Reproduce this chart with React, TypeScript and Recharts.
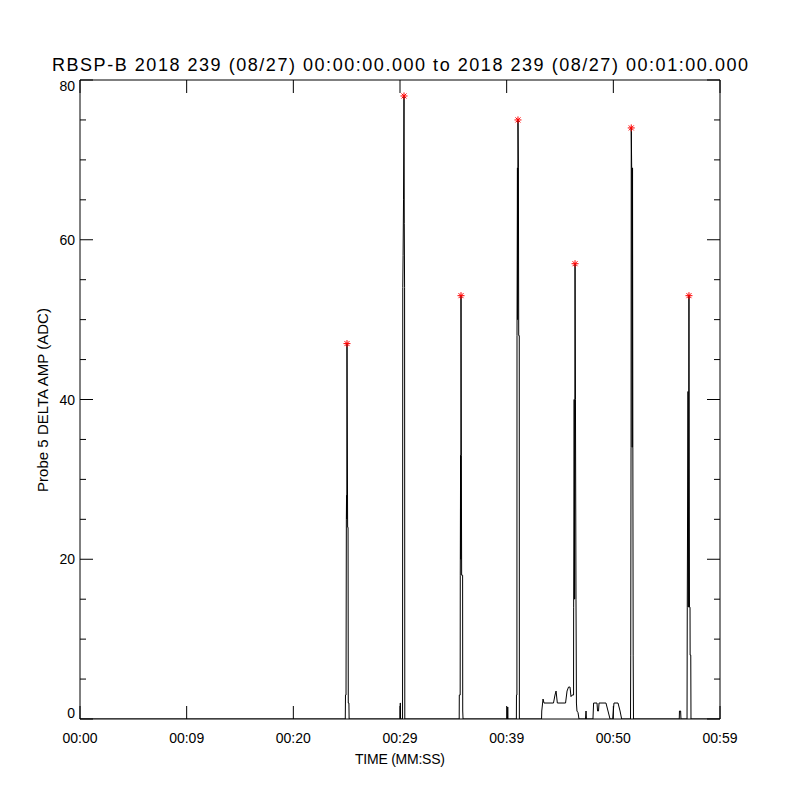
import React from 'react'
import { LineChart, Line, Scatter, XAxis, YAxis } from 'recharts'

// time in seconds from 00:00, amplitude in ADC counts
const start: [number, number][] = [[0, 0]]
const spike1: [number, number][] = [
  [24.87, 0], [24.89, 3], [24.94, 3], [24.97, 25], [24.99, 28], [25.01, 25],
  [25.03, 47], [25.09, 24], [25.13, 24], [25.15, 2], [25.21, 2], [25.23, 0],
]
const blip1: [number, number][] = [[30.01, 0], [30.02, 2], [30.04, 2], [30.05, 0]]
const spike2: [number, number][] = [
  [30.24, 0], [30.26, 54], [30.29, 58], [30.33, 65], [30.375, 78], [30.4, 62], [30.43, 54], [30.45, 0],
]
const spike3: [number, number][] = [
  [35.55, 0], [35.56, 3], [35.64, 3], [35.65, 18], [35.68, 33], [35.7, 20],
  [35.72, 53], [35.75, 33], [35.78, 18], [35.87, 18], [35.88, 1], [35.91, 0],
]
const blip2: [number, number][] = [[40.08, 0], [40.09, 1.5], [40.11, 1.5], [40.12, 0]]
const spike4: [number, number][] = [
  [40.91, 0], [40.92, 3], [40.96, 3], [40.97, 48], [41.01, 69], [41.03, 50],
  [41.06, 75], [41.1, 69], [41.13, 48], [41.18, 48], [41.19, 0],
]
const noise1: [number, number][] = [
  [43.27, 0], [43.29, 1], [43.41, 2.5], [43.5, 2], [44.39, 2], [44.53, 3], [44.63, 3.5],
  [44.75, 2], [45.52, 2], [45.66, 3.5], [45.8, 4], [45.94, 4], [46.03, 2.8], [46.13, 3],
]
const spike5: [number, number][] = [
  [46.27, 3], [46.28, 14], [46.33, 40], [46.37, 15], [46.41, 57], [46.45, 40],
  [46.5, 15], [46.54, 2], [46.59, 1], [46.69, 0.8], [46.78, 0],
  [47.39, 0], [47.44, 1], [47.48, 0],
]
const noise2: [number, number][] = [
  [48.09, 0], [48.15, 2], [48.47, 2], [48.52, 1], [48.61, 1], [48.66, 2], [49.31, 2],
  [49.5, 1], [49.69, 0], [49.94, 0], [50.06, 2], [50.44, 2], [50.63, 1], [50.78, 0],
]
const spike6: [number, number][] = [
  [51.61, 0], [51.63, 8], [51.66, 34], [51.68, 74], [51.72, 69], [51.77, 34],
  [51.8, 69], [51.83, 34], [51.86, 8], [51.89, 0],
]
const blip3: [number, number][] = [[56.18, 0], [56.2, 1], [56.31, 1], [56.34, 0]]
const spike7: [number, number][] = [
  [56.91, 0], [56.93, 14], [57.0, 41], [57.03, 14], [57.09, 53], [57.14, 14],
  [57.19, 14], [57.2, 8], [57.26, 8], [57.28, 0],
]
const end: [number, number][] = [[60, 0]]

const peakTimes = [25.03, 30.375, 35.72, 41.06, 46.41, 51.68, 57.09]
const peakValues = [47, 78, 53, 75, 57, 74, 53]

const xTicks = [0, 10, 20, 30, 40, 50, 60]
const xTickLabels = ['00:00', '00:09', '00:20', '00:29', '00:39', '00:50', '00:59']
const yTicks = [0, 5, 10, 15, 20, 25, 30, 35, 40, 45, 50, 55, 60, 65, 70, 75, 80]
const yLabelled = [0, 20, 40, 60, 80]

const series = [
  ...start, ...spike1, ...blip1, ...spike2, ...spike3, ...blip2, ...spike4,
  ...noise1, ...spike5, ...noise2, ...spike6, ...blip3, ...spike7, ...end,
].map(([t, v]) => ({ t, v }))

const peaks = peakTimes.map((t, i) => ({ t, v: peakValues[i] }))

const FONT = 'Liberation Sans, Arial, sans-serif'

const BottomTick = (props: any) => {
  const { x, y, payload } = props
  const i = xTicks.indexOf(payload.value)
  return (
    <g>
      <line x1={x} y1={y} x2={x} y2={y - 13} stroke="#000" />
      <text x={x} y={y + 24} textAnchor="middle" fontSize={14} fontFamily={FONT} fill="#000">
        {xTickLabels[i]}
      </text>
    </g>
  )
}

const TopTick = (props: any) => {
  const { x, y } = props
  return <line x1={x} y1={y} x2={x} y2={y + 13} stroke="#000" />
}

const LeftTick = (props: any) => {
  const { x, y, payload } = props
  const major = yLabelled.includes(payload.value)
  const ty = Math.min(Math.max(y, 86), 713)
  return (
    <g>
      <line x1={x} y1={y} x2={x + (major ? 13 : 6)} y2={y} stroke="#000" />
      {major && (
        <text x={x - 5} y={ty + 5} textAnchor="end" fontSize={14} fontFamily={FONT} fill="#000">
          {payload.value}
        </text>
      )}
    </g>
  )
}

const RightTick = (props: any) => {
  const { x, y, payload } = props
  const major = yLabelled.includes(payload.value)
  return <line x1={x} y1={y} x2={x - (major ? 13 : 6)} y2={y} stroke="#000" />
}

const Asterisk = (props: any) => {
  const { cx, cy } = props
  const r = 3.5
  const d = 2.5
  return (
    <g stroke="#ff0000" strokeWidth={1}>
      <line x1={cx - r} y1={cy} x2={cx + r} y2={cy} />
      <line x1={cx} y1={cy - r} x2={cx} y2={cy + r} />
      <line x1={cx - d} y1={cy - d} x2={cx + d} y2={cy + d} />
      <line x1={cx - d} y1={cy + d} x2={cx + d} y2={cy - d} />
    </g>
  )
}

export default function App() {
  return (
    <div style={{ position: 'absolute', left: 0, top: 0, width: 800, height: 800, background: '#fff' }}>
      <LineChart width={800} height={800} data={series} margin={{ top: 79, right: 79, bottom: 80, left: 79 }}>
        <XAxis
          xAxisId="bottom" dataKey="t" type="number" domain={[0, 60]} allowDataOverflow
          ticks={xTicks} interval={0} height={1} tickSize={0} tickMargin={0} tickLine={false}
          axisLine={{ stroke: '#000' }} tick={<BottomTick />}
        />
        <XAxis
          xAxisId="top" orientation="top" dataKey="t" type="number" domain={[0, 60]} allowDataOverflow
          ticks={xTicks} interval={0} height={1} tickSize={0} tickMargin={0} tickLine={false}
          axisLine={{ stroke: '#000' }} tick={<TopTick />}
        />
        <YAxis
          yAxisId="left" type="number" domain={[0, 80]} allowDataOverflow
          ticks={yTicks} interval={0} width={1} tickSize={0} tickMargin={0} tickLine={false}
          axisLine={{ stroke: '#000' }} tick={<LeftTick />}
        />
        <YAxis
          yAxisId="right" orientation="right" type="number" domain={[0, 80]} allowDataOverflow
          ticks={yTicks} interval={0} width={1} tickSize={0} tickMargin={0} tickLine={false}
          axisLine={{ stroke: '#000' }} tick={<RightTick />}
        />
        <Line
          xAxisId="bottom" yAxisId="left" dataKey="v" type="linear" stroke="#000" strokeWidth={1}
          dot={false} isAnimationActive={false}
        />
        <Scatter
          xAxisId="top" yAxisId="right" data={peaks} dataKey="v" shape={<Asterisk />}
          isAnimationActive={false}
        />
      </LineChart>
      <svg width={800} height={800} style={{ position: 'absolute', left: 0, top: 0, pointerEvents: 'none' }}>
        <text x={400} y={71} textAnchor="middle" fontSize={18} fontFamily={FONT} textLength={696} lengthAdjust="spacing">
          RBSP-B 2018 239 (08/27) 00:00:00.000 to 2018 239 (08/27) 00:01:00.000
        </text>
        <text x={400} y={764} textAnchor="middle" fontSize={14} fontFamily={FONT} textLength={90} lengthAdjust="spacing">
          TIME (MM:SS)
        </text>
        <text
          x={0} y={0} transform="translate(48,400) rotate(-90)" textAnchor="middle" fontSize={15}
          fontFamily={FONT} textLength={184} lengthAdjust="spacing"
        >
          Probe 5 DELTA AMP (ADC)
        </text>
      </svg>
    </div>
  )
}
